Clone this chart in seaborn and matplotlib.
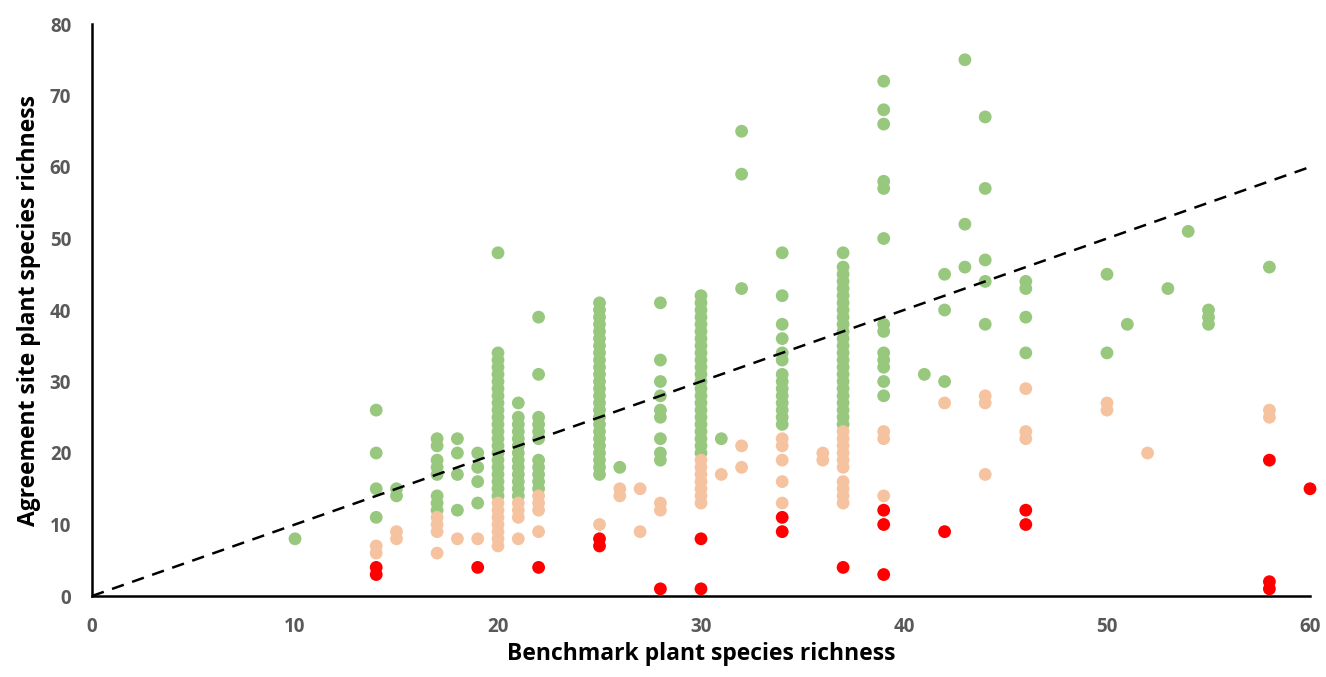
import matplotlib
matplotlib.use("Agg")
import matplotlib.pyplot as plt
import seaborn as sns
import pandas as pd

# ---- data (benchmark richness -> list of agreement-site richness) ----
green_cols = {
    10: [8],
    14: [26, 20, 15, 11],
    15: [15, 14],
    17: [22, 21, 19, 18, 17, 14, 13, 12],
    18: [22, 20, 17, 12],
    19: [20, 18, 16, 13],
    20: [48, 34, 33, 32, 31, 30, 29, 28, 27, 26, 25, 24, 23, 22, 21, 20, 19, 18, 17, 16, 15, 14],
    21: [27, 25, 24, 23, 22, 21, 20, 19, 18, 17, 16, 15, 14],
    22: [39, 31, 25, 24, 23, 22, 19, 18, 17, 16, 15],
    25: [41, 40, 39, 38, 37, 36, 35, 34, 33, 32, 31, 30, 29, 28, 27, 26, 25, 24, 23, 22, 21, 20, 19, 18, 17],
    26: [18],
    28: [41, 33, 30, 28, 26, 25, 22, 20, 19],
    30: [42, 41, 40, 39, 38, 37, 36, 35, 34, 33, 32, 31, 30, 29, 28, 27, 26, 25, 24, 23, 22, 21, 20],
    31: [22],
    32: [65, 59, 43],
    34: [48, 42, 38, 36, 34, 33, 31, 30, 29, 28, 27, 26, 25, 24],
    37: [48, 46, 45, 44, 43, 42, 41, 40, 39, 38, 37, 36, 35, 34, 33, 32, 31, 30, 29, 28, 27, 26, 25, 24],
    39: [72, 68, 66, 58, 57, 50, 38, 37, 34, 33, 32, 30, 28],
    41: [31],
    42: [45, 40, 30],
    43: [75, 52, 46],
    44: [67, 57, 47, 44, 38],
    46: [44, 43, 39, 34],
    50: [45, 34],
    51: [38],
    53: [43],
    54: [51],
    55: [40, 39, 38],
    58: [46],
}
peach_cols = {
    14: [7, 6],
    15: [9, 8],
    17: [11, 10, 9, 6],
    18: [8],
    19: [8],
    20: [13, 12, 11, 10, 9, 8, 7],
    21: [13, 12, 11, 8],
    22: [14, 13, 12, 9],
    25: [10],
    26: [15, 14],
    27: [15, 9],
    28: [13, 12],
    30: [19, 18, 17, 16, 15, 14, 13],
    31: [17],
    32: [21, 18],
    34: [22, 21, 19, 16, 13],
    36: [20, 19],
    37: [23, 22, 21, 20, 19, 18, 16, 15, 14, 13],
    39: [23, 22, 14],
    42: [27],
    44: [28, 27, 17],
    46: [29, 23, 22],
    50: [27, 26],
    52: [20],
    58: [26, 25],
}
red_cols = {
    14: [4, 3],
    19: [4],
    22: [4],
    25: [8, 7],
    28: [1],
    30: [8, 1],
    34: [11, 9],
    37: [4],
    39: [12, 10, 3],
    42: [9],
    46: [12, 10],
    58: [19, 2, 1],
    60: [15],
}
categories = ["green", "peach", "red"]
colors = {"green": "#97C87E", "peach": "#F6C3A0", "red": "#FF0000"}
x_ticks = [0, 10, 20, 30, 40, 50, 60]
y_ticks = [0, 10, 20, 30, 40, 50, 60, 70, 80]

rows = []
for cat, cols in zip(categories, [green_cols, peach_cols, red_cols]):
    for bx, ys in cols.items():
        for yv in ys:
            rows.append({"benchmark": bx, "agreement": yv, "cat": cat})
df = pd.DataFrame(rows)

sns.set_theme(style="white")
plt.rcParams["font.family"] = ["Open Sans", "DejaVu Sans"]

fig = plt.figure(figsize=(13.26, 6.77), dpi=100)
ax = fig.add_axes([92 / 1326, 1 - 596 / 677, (1310 - 92) / 1326, (596 - 24) / 677])

sns.scatterplot(data=df, x="benchmark", y="agreement", hue="cat",
                hue_order=categories, palette=colors, s=85, linewidth=0,
                legend=False, ax=ax, clip_on=False, zorder=3)

sns.lineplot(x=[0, 60], y=[0, 60], ax=ax, color="black", linewidth=1.8,
             linestyle=(0, (5, 3.5)), zorder=4)

ax.set_xlim(0, 60)
ax.set_ylim(0, 80)
ax.set_xticks(x_ticks)
ax.set_yticks(y_ticks)
ax.tick_params(axis="both", length=0, labelsize=13.5, labelcolor="#595959")
ax.tick_params(axis="x", pad=15)
ax.tick_params(axis="y", pad=15)
for lab in ax.get_xticklabels() + ax.get_yticklabels():
    lab.set_fontweight("bold")
ax.set_xlabel("Benchmark plant species richness", fontsize=16.5, fontweight="bold",
              color="black", labelpad=4)
ax.set_ylabel("Agreement site plant species richness", fontsize=16.5, fontweight="bold",
              color="black", labelpad=6)
for side in ["top", "right"]:
    ax.spines[side].set_visible(False)
for side in ["left", "bottom"]:
    ax.spines[side].set_color("black")
    ax.spines[side].set_linewidth(1.8)
ax.grid(False)

fig.savefig("out.png", dpi=100, facecolor="white")
